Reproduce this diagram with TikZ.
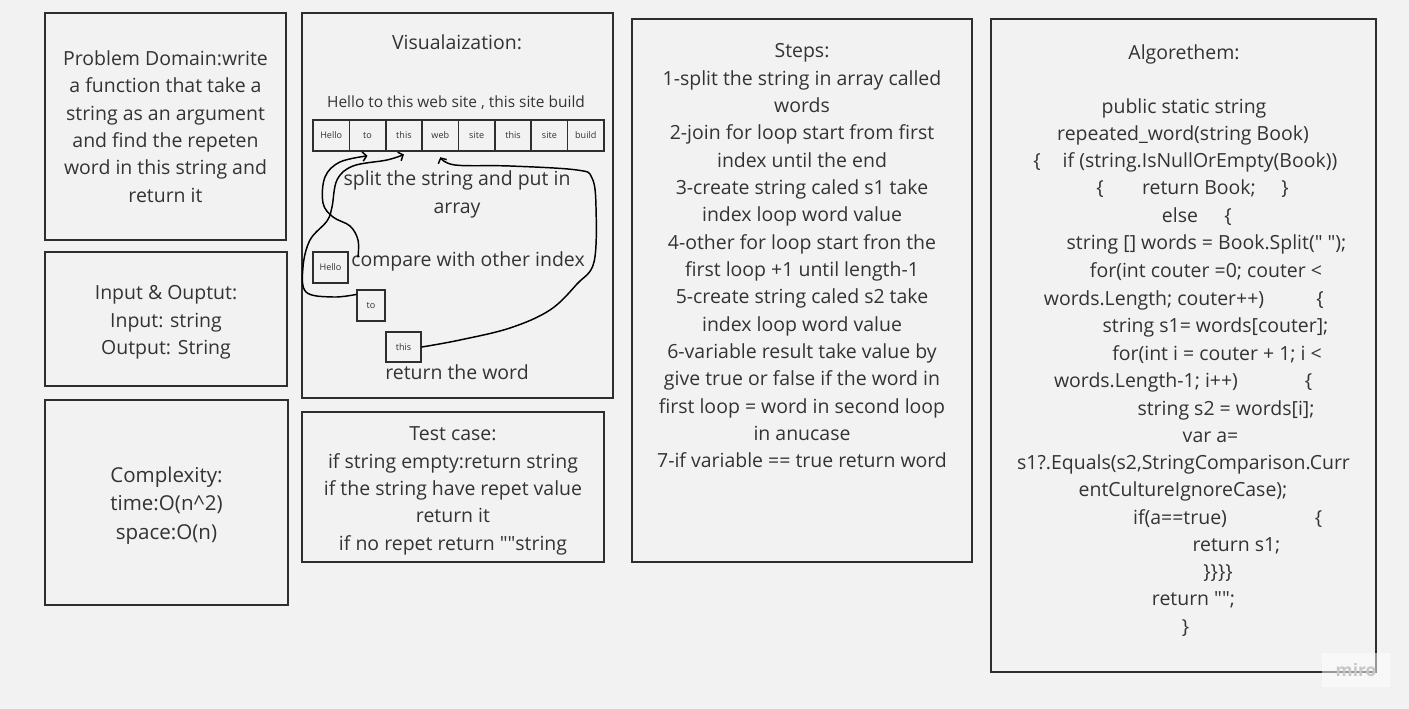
\documentclass[tikz,border=0pt]{standalone}
\usepackage{fontspec}
\setmainfont{Open Sans}
\usetikzlibrary{arrows.meta}
\definecolor{paper}{HTML}{F2F2F2}
\definecolor{ink}{HTML}{333333}
\definecolor{frame}{HTML}{2E2E2E}
\tikzset{>={Straight Barb[length=3pt,width=7pt]}}
\tikzset{
  panel/.style={draw=frame, line width=1.3pt, fill=paper, text=ink, align=center,
    font=\fontsize{14.6}{20.5}\selectfont, inner sep=0pt},
  txt/.style={text=ink, font=\fontsize{14.6}{20.5}\selectfont, inner sep=0pt},
  cell/.style={draw=frame, line width=1.3pt, fill=paper, text=ink,
    font=\fontsize{6.8}{8}\selectfont, minimum width=27.28pt, minimum height=23.25pt, inner sep=0pt},
  pen/.style={black, line width=1.1pt, line cap=round, line join=round},
}
\newcommand{\qq}{\textquotedbl}

\begin{document}
\begin{tikzpicture}[x=0.75pt, y=-0.75pt]
    \fill[paper] (0,0) rectangle (1409,709);
    \useasboundingbox (0,0) rectangle (1409,709);

    % left column
    \node[panel, minimum width=180.75pt, minimum height=170.25pt] (prob) at (165.5,126.5)
        {Problem Domain:write\\a function that take a\\string as an argument\\and find the repeten\\word in this string and\\return it};
    \node[panel, minimum width=181.5pt, minimum height=100.5pt] (io) at (166,319) {};
    \node[txt, align=center] (iotext) at (166,322.5) {Input \& Ouptut:\\Input: string\\Output: String};
    \node[panel, minimum width=182.25pt, minimum height=153.75pt] (cplx) at (166.5,502.5) {};
    \node[txt, align=center, font=\fontsize{15.4}{21.4}\selectfont] (cplxtext) at (166.5,505.5)
        {Complexity:\\time:O(n\textasciicircum 2)\\space:O(n)};

    % visualization
    \node[panel, minimum width=233.25pt, minimum height=288.75pt] (vis) at (457.5,205.5) {};
    \node[txt] (vtitle) at (457,42) {Visualaization:};
    \node[txt, font=\fontsize{11.6}{14}\selectfont] (sentence) at (456,103) {Hello to this web site , this site build};
    \foreach \w [count=\i] in {Hello,to,this,web,site,this,site,build}
        \node[cell] (c\i) at (313+36.375*\i-18.19,135.5) {\w};
    \node[txt, align=center] (split) at (457,194.5) {split the string and put in\\array};
    \node[txt] (compare) at (468,261.5) {compare with other index};
    \node[cell, minimum width=26.25pt] (wHello) at (330.5,267.5) {Hello};
    \node[cell, minimum width=21pt] (wTo) at (371,305.5) {to};
    \node[cell, minimum width=26.25pt, minimum height=22.5pt] (wThis) at (403.5,347) {this};
    \node[txt] (ret) at (457,372) {return the word};

    % hand drawn arrows
    \coordinate (a0) at (358,257);
    \draw[pen,->] plot[smooth, tension=0.6] coordinates {(a0) (358,240) (350,226) (333,217) (323,203) (325,177) (340,162) ([yshift=-3pt]c2.south)};
    \draw[pen,->] plot[smooth, tension=0.6] coordinates {([yshift=-4pt]wTo.north west) (333,297) (306,292) (303,267) (310,240) (327,221) (332,207) (337,180) (353,166) (387,160) ([yshift=-2pt]c3.south)};
    \draw[pen,->] plot[smooth, tension=0.6] coordinates {(wThis.east) (460,340) (510,328) (550,310) (577,284) (594,262) (596,207) (592,178) (577,170) (510,166) (455,165) ([yshift=-4pt]c4.south)};

    % test case
    \node[panel, minimum width=226.5pt, minimum height=112.5pt] (test) at (453,487) {};
    \node[txt, align=center] (testtext) at (453,491)
        {Test case:\\if string empty:return string\\if the string have repet value\\return it\\if no repet return \qq\qq string};

    % steps
    \node[panel, minimum width=255pt, minimum height=407.25pt] (steps) at (802,290.5) {};
    \foreach \t [count=\k from 0] in {Steps:, 1-split the string in array called, words,
        2-join for loop start from first, index until the end, 3-create string  caled s1 take,
        index loop word value, 4-other for loop start fron the, first loop +1 until length-1,
        5-create string caled s2 take, index loop word value, 6-variable result take value by,
        give true or false if the word in, first loop = word in second loop, in anucase,
        7-if variable == true return word}
        \node[txt, anchor=base] (st\k) at (802,58+27.33*\k) {\t};

    % algorithm
    \node[panel, minimum width=288.75pt, minimum height=489.75pt] (algo) at (1183.5,345.5) {};
    \foreach \y/\x/\t [count=\k] in {53/1184/Algorethem:, 107/1184/public static string,
        134/1183/repeated\_word(string Book), 161/1037/\{, 161/1200/if (string.IsNullOrEmpty(Book)),
        188/1100/\{, 188/1199/return Book;, 188/1285/\}, 216/1180/else, 216/1228/\{,
        243/1206.5/string [] words = Book.Split(\qq\ \qq);, 270/1206/for(int couter =0; couter <,
        298/1154/words.Length; couter++), 298/1320/\{, 325/1215.5/string s1= words[couter];,
        353/1217/for(int i = couter + 1; i <, 380/1146/words.Length-1; i++), 380/1308.5/\{,
        408/1226/string s2 = words[i];, 435/1210.5/var a=, 462/1183.5/{s1?.Equals(s2,StringComparison.Curr},
        489/1183/entCultureIgnoreCase);, 517/1180/if(a==true), 517/1318.5/\{, 544/1236.5/return s1;,
        571/1218/\}\}\}\}, 598/1193.5/return \qq\qq;, 626/1185.5/\}}
        \node[txt, anchor=base] (al\k) at (\x,\y+7) {\t};

    % watermark
    \node[fill=white, fill opacity=0.5, text opacity=1, text=black!22, inner sep=0pt,
        font=\fontsize{13}{13}\selectfont\bfseries, minimum width=51pt, minimum height=26pt] (miro) at (1356,670) {miro};
\end{tikzpicture}
\end{document}
